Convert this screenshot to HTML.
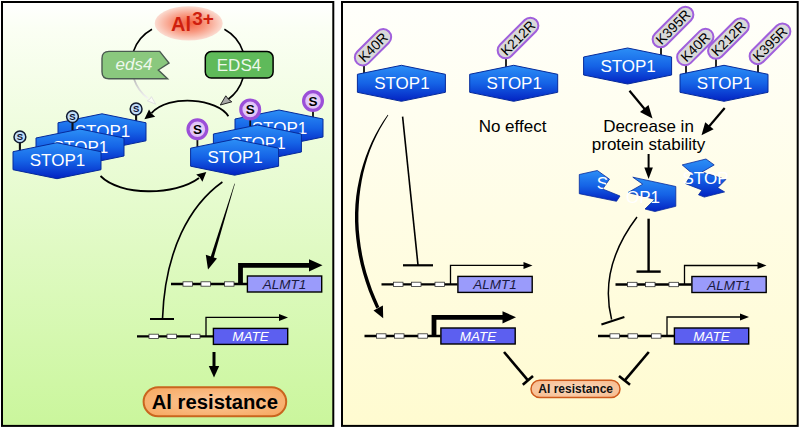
<!DOCTYPE html>
<html><head><meta charset="utf-8">
<style>
html,body{margin:0;padding:0;background:#fff;}
body{width:800px;height:430px;overflow:hidden;font-family:"Liberation Sans",sans-serif;}
svg{display:block;}
text{font-family:"Liberation Sans",sans-serif;}
</style></head><body>
<svg width="800" height="430" viewBox="0 0 800 430">
<defs>
<linearGradient id="gL" x1="0" y1="0" x2="0" y2="1"><stop offset="0" stop-color="#ffffff"/><stop offset="0.06" stop-color="#fbfff4"/><stop offset="1" stop-color="#caf69c"/></linearGradient>
<linearGradient id="gR" x1="0" y1="0" x2="0" y2="1"><stop offset="0" stop-color="#fffffb"/><stop offset="1" stop-color="#fffbd0"/></linearGradient>
<linearGradient id="gB" x1="0" y1="0" x2="0" y2="1"><stop offset="0" stop-color="#2c8ff6"/><stop offset="0.5" stop-color="#1563e6"/><stop offset="1" stop-color="#0322c2"/></linearGradient>
<radialGradient id="gAl" cx="0.5" cy="0.5" r="0.5"><stop offset="0" stop-color="#f5603f"/><stop offset="0.5" stop-color="#f89880"/><stop offset="1" stop-color="#fbdcd1"/></radialGradient>
<radialGradient id="gS" cx="0.5" cy="0.5" r="0.5"><stop offset="0" stop-color="#f3e6fc"/><stop offset="1" stop-color="#d9b5f5"/></radialGradient>
<linearGradient id="gFade" x1="0" y1="0" x2="0" y2="1"><stop offset="0" stop-color="#bdbdbd"/><stop offset="1" stop-color="#f4f4f4"/></linearGradient>
<g id="hex"><polygon points="0,9 44,0 88,9 88,27 44,36 0,27" fill="url(#gB)" stroke="#062a9a" stroke-width="1"/><text x="44.5" y="23.5" font-size="17" fill="#fff" text-anchor="middle">STOP1</text></g>
<g id="ss"><line x1="0" y1="6" x2="0" y2="14" stroke="#111" stroke-width="2.1"/><circle r="5.9" fill="#c0dcf8" stroke="#111a30" stroke-width="1.5"/><text x="0" y="3.4" font-size="9.5" font-weight="bold" fill="#0a1030" text-anchor="middle">S</text></g>
<g id="sp"><line x1="0" y1="10" x2="0" y2="18" stroke="#111" stroke-width="1.8"/><circle r="9.4" fill="url(#gS)" stroke="#9b4fd8" stroke-width="3.2"/><text x="0" y="4.8" font-size="13.5" font-weight="bold" fill="#000" text-anchor="middle">S</text></g>
<g id="dna"><line x1="0" y1="0" x2="76" y2="0" stroke="#000" stroke-width="2.4"/><rect x="12" y="-2.2" width="9.5" height="4.4" fill="#fff" stroke="#333" stroke-width="0.8"/><rect x="30" y="-2.2" width="9.5" height="4.4" fill="#fff" stroke="#333" stroke-width="0.8"/><rect x="53.5" y="-2.2" width="9.5" height="4.4" fill="#fff" stroke="#333" stroke-width="0.8"/></g>
<g id="almt"><use href="#dna"/><rect x="76.4" y="-8" width="74.3" height="16" fill="#9a9bfb" stroke="#000" stroke-width="1.4"/><text x="113.5" y="5" font-size="13.5" font-style="italic" fill="#1a1a40" text-anchor="middle">ALMT1</text></g>
<g id="mate"><use href="#dna"/><rect x="76.4" y="-8" width="74.3" height="16" fill="#5c5ff0" stroke="#000" stroke-width="1.4"/><text x="113.5" y="5" font-size="13.5" font-style="italic" fill="#fff" text-anchor="middle">MATE</text></g>
<g id="thin"><path d="M69 0 V-19 H144" fill="none" stroke="#000" stroke-width="1.3"/><polygon points="151,-19 142,-22.5 142,-15.5" fill="#000"/></g>
<g id="thick"><path d="M69.5 0 V-18.7 H140" fill="none" stroke="#000" stroke-width="4.8"/><polygon points="151.5,-18.7 138,-24.8 138,-12.6" fill="#000"/></g>
<radialGradient id="gP2" cx="0.5" cy="0.5" r="0.6"><stop offset="0" stop-color="#fbc99b"/><stop offset="1" stop-color="#f8ab66"/></radialGradient>
<radialGradient id="gP" cx="0.5" cy="0.5" r="0.6"><stop offset="0" stop-color="#fbdcc2"/><stop offset="1" stop-color="#f7bd90"/></radialGradient>
</defs>
<rect x="2" y="2" width="331.3" height="423.9" fill="url(#gL)" stroke="#000" stroke-width="2"/>
<rect x="342" y="2" width="455.7" height="423.9" fill="url(#gR)" stroke="#000" stroke-width="2"/>

<!-- LEFT PANEL -->
<ellipse cx="188.7" cy="23.4" rx="34" ry="17.2" fill="url(#gAl)"/>
<text x="171" y="31.4" font-size="20" font-weight="bold" fill="#cf1f0e">Al</text>
<text x="192.3" y="24.6" font-size="19" font-weight="bold" fill="#cf1f0e">3+</text>
<path d="M152 29.3 A40.5 40.5 0 0 0 133.4 51.4" fill="none" stroke="#000" stroke-width="1.6"/>
<path d="M224.4 29.3 A40.5 40.5 0 0 1 243 51.4" fill="none" stroke="#000" stroke-width="1.6"/>
<path d="M243 78 A40.5 40.5 0 0 1 228 99.5" fill="none" stroke="#000" stroke-width="1.6"/>
<polygon points="220.3,105 225.8,95.8 228.4,99.2 231.8,101.8" fill="#a8a8a8" stroke="#222" stroke-width="1"/>
<path d="M134 79 A40.5 40.5 0 0 0 148 98.5" fill="none" stroke="url(#gFade)" stroke-width="1.8"/>
<polygon points="155.7,104.2 147.3,100.8 150,99 151.4,96.6" fill="#fbfdf6" stroke="#e2e2e2" stroke-width="1"/>
<path d="M109 51.4 H159.7 L169 63 L158.3 70 L167.6 78.8 H109 Q102 78.8 102 71.8 V58.4 Q102 51.4 109 51.4Z" fill="#8ac87e" stroke="#4a5a50" stroke-width="1.4"/>
<text x="134" y="70.4" font-size="17" font-style="italic" fill="#eef8ec" text-anchor="middle">eds4</text>
<rect x="205.3" y="51.6" width="67.8" height="26.4" rx="6" ry="6" fill="#5fba5a" stroke="#000" stroke-width="1.5"/>
<text x="239" y="70.6" font-size="17" fill="#eef8ec" text-anchor="middle">EDS4</text>

<!-- left stack -->
<use href="#ss" x="136.1" y="109"/>
<use href="#hex" x="58" y="113.8"/>
<use href="#ss" x="72.5" y="116.6"/>
<use href="#hex" x="36" y="129"/>
<use href="#ss" x="19.9" y="136.9"/>
<use href="#hex" x="13" y="142.7"/>
<!-- right stack -->
<use href="#sp" x="313" y="101"/>
<use href="#hex" x="235" y="110"/>
<use href="#sp" x="250.2" y="109.4"/>
<use href="#hex" x="213.4" y="125"/>
<use href="#sp" x="197.4" y="129.2"/>
<use href="#hex" x="190.6" y="139.2"/>
<!-- cycle arrows -->
<path d="M228.4 116.2 C217.7 98.6 168.9 93.7 151.5 113.2" fill="none" stroke="#000" stroke-width="1.8"/>
<polygon points="144.4,119.2 149,109.6 151.6,113.4 155.2,116.8" fill="#000"/>
<path d="M100.5 176 C120 196 175 196 199 178" fill="none" stroke="#000" stroke-width="1.8"/>
<polygon points="206.3,172 196.2,174.6 199.8,177.6 202.4,181.8" fill="#000"/>
<!-- outputs -->
<path d="M222.4 182 C190 205 165 250 162.5 318.7" fill="none" stroke="#000" stroke-width="1.6"/>
<line x1="150" y1="319" x2="174" y2="319" stroke="#000" stroke-width="2"/>
<polygon points="234.5,183.6 234.9,183.7 213.6,258 210.6,257" fill="#000"/>
<polygon points="208,269.6 205.8,254.8 217,258.4" fill="#000"/>
<use href="#almt" x="171" y="284"/>
<use href="#thick" x="171" y="284"/>
<use href="#mate" x="137" y="336.4"/>
<use href="#thin" x="137" y="336.4"/>
<line x1="214" y1="352" x2="214" y2="368" stroke="#000" stroke-width="3"/>
<polygon points="214,377.5 208.8,366 219.2,366" fill="#000"/>
<rect x="143.6" y="387.2" width="142.6" height="29" rx="14.5" ry="14.5" fill="url(#gP2)" stroke="#c9651e" stroke-width="2"/>
<text x="214.8" y="408.6" font-size="20.3" font-weight="bold" fill="#000" text-anchor="middle">Al resistance</text>

<!-- RIGHT PANEL -->
<!-- STOP1 #1 K40R -->
<line x1="364" y1="63" x2="364" y2="74" stroke="#111" stroke-width="1.8"/>
<g transform="translate(373,47.3) rotate(-45)"><rect x="-22.4" y="-8" width="44.8" height="16" rx="8" ry="8" fill="#d9d9d9" stroke="#a05fdc" stroke-width="2"/><text x="0" y="4.9" font-size="13.8" fill="#000" text-anchor="middle">K40R</text></g>
<use href="#hex" x="357.4" y="65.3"/>
<!-- STOP1 #2 K212R -->
<line x1="506" y1="56" x2="506" y2="68" stroke="#111" stroke-width="1.8"/>
<g transform="translate(518,38) rotate(-45)"><rect x="-25.5" y="-8" width="51" height="16" rx="8" ry="8" fill="#d9d9d9" stroke="#a05fdc" stroke-width="2"/><text x="0" y="4.9" font-size="13.8" fill="#000" text-anchor="middle">K212R</text></g>
<use href="#hex" x="469.7" y="65.3"/>
<text x="512.5" y="131.7" font-size="17" fill="#000" text-anchor="middle">No effect</text>
<!-- STOP1 #3 K395R -->
<line x1="661" y1="45" x2="661" y2="56" stroke="#111" stroke-width="1.8"/>
<g transform="translate(673,27) rotate(-45)"><rect x="-25.5" y="-8" width="51" height="16" rx="8" ry="8" fill="#d9d9d9" stroke="#a05fdc" stroke-width="2"/><text x="0" y="4.9" font-size="13.8" fill="#000" text-anchor="middle">K395R</text></g>
<use href="#hex" x="583.6" y="48"/>
<!-- STOP1 #4 triple -->
<line x1="686" y1="63" x2="686" y2="74" stroke="#111" stroke-width="1.8"/>
<line x1="716" y1="56" x2="716" y2="68" stroke="#111" stroke-width="1.8"/>
<line x1="758" y1="61" x2="758" y2="73" stroke="#111" stroke-width="1.8"/>
<g transform="translate(695.3,47) rotate(-45)"><rect x="-22.4" y="-8" width="44.8" height="16" rx="8" ry="8" fill="#d9d9d9" stroke="#a05fdc" stroke-width="2"/><text x="0" y="4.9" font-size="13.8" fill="#000" text-anchor="middle">K40R</text></g>
<g transform="translate(728.4,38.5) rotate(-45)"><rect x="-25.5" y="-8" width="51" height="16" rx="8" ry="8" fill="#d9d9d9" stroke="#a05fdc" stroke-width="2"/><text x="0" y="4.9" font-size="13.8" fill="#000" text-anchor="middle">K212R</text></g>
<g transform="translate(770,43.8) rotate(-45)"><rect x="-25.5" y="-8" width="51" height="16" rx="8" ry="8" fill="#d9d9d9" stroke="#a05fdc" stroke-width="2"/><text x="0" y="4.9" font-size="13.8" fill="#000" text-anchor="middle">K395R</text></g>
<use href="#hex" x="680" y="65.3"/>
<!-- arrows to text -->
<line x1="629.5" y1="90.7" x2="645" y2="109.5" stroke="#000" stroke-width="2.2"/>
<polygon points="652.5,118.5 640,112 648.5,105" fill="#000"/>
<line x1="724.7" y1="108" x2="709" y2="126.5" stroke="#000" stroke-width="2.2"/>
<polygon points="701.5,135.3 705.2,122.2 713.6,129.3" fill="#000"/>
<text x="648.5" y="131.7" font-size="17" fill="#000" text-anchor="middle">Decrease in</text>
<text x="648.5" y="149.6" font-size="17" fill="#000" text-anchor="middle">protein stability</text>
<line x1="648.6" y1="154" x2="648.6" y2="170" stroke="#000" stroke-width="2"/>
<polygon points="648.6,179 644.3,167.5 652.9,167.5" fill="#000"/>
<!-- fragments -->
<clipPath id="c1"><polygon points="579.3,174.5 597.3,170.5 609.5,179.2 602.6,189 620,196 616.5,201.3 579.3,193.7"/></clipPath>
<polygon points="579.3,174.5 597.3,170.5 609.5,179.2 602.6,189 620,196 616.5,201.3 579.3,193.7" fill="url(#gB)" stroke="#062a9a" stroke-width="0.8"/>
<text x="596.7" y="189.2" font-size="17" fill="#fff" clip-path="url(#c1)">S</text>
<polygon points="632.8,177.2 675.8,186.5 675.8,206.3 654.9,211.5 645,209 654.9,199.3 628,192.5 642.7,184.2" fill="url(#gB)" stroke="#062a9a" stroke-width="0.8"/>
<text x="660" y="203" font-size="17" fill="#fff" text-anchor="end">OP1</text>
<polygon points="682.2,164.9 706,159 714.2,164.9 702,172 725.8,179.6 717.7,187.8 724.6,191.9 704.3,197.1 698.5,194.8 702,190 685.7,183.7 692,173.3" fill="url(#gB)" stroke="#062a9a" stroke-width="0.8"/>
<text x="682.5" y="184" font-size="17" fill="#fff">STOP</text>
<!-- left group arrows -->
<polygon points="387.7,114.8 383.2,121.3 379.1,128.1 375.2,135.0 371.7,142.1 368.5,149.4 365.6,156.9 363.1,164.5 360.8,172.3 359.0,180.2 357.4,188.2 356.2,196.3 355.4,204.6 355.0,213.0 355.0,221.4 355.4,229.9 356.2,238.5 357.3,247.1 358.8,255.8 360.7,264.5 363.0,273.3 365.7,282.1 368.8,290.9 372.3,299.6 376.3,308.4 379.3,307.0 375.5,298.3 372.0,289.7 369.0,281.0 366.3,272.4 364.0,263.8 362.2,255.2 360.7,246.6 359.6,238.1 358.8,229.7 358.4,221.3 358.4,213.0 358.8,204.8 359.4,196.7 360.4,188.7 361.7,180.7 363.3,172.9 365.3,165.2 367.6,157.6 370.2,150.1 373.2,142.8 376.5,135.7 380.1,128.7 384.1,121.9 388.3,115.2" fill="#000"/>
<polygon points="383.2,318.3 373.5,310.4 382.9,305.4" fill="#000"/>
<line x1="402.6" y1="116.6" x2="418" y2="265" stroke="#000" stroke-width="1.6"/>
<line x1="403" y1="265.3" x2="433" y2="265.3" stroke="#000" stroke-width="2.2"/>
<use href="#almt" x="381.5" y="284.4"/>
<use href="#thin" x="381.5" y="284.4"/>
<use href="#mate" x="364.5" y="336"/>
<use href="#thick" x="364.5" y="336"/>
<!-- right group -->
<line x1="648.6" y1="218.7" x2="648.6" y2="271.6" stroke="#000" stroke-width="2.4"/>
<line x1="636.5" y1="271.6" x2="660.7" y2="271.6" stroke="#000" stroke-width="2.4"/>
<path d="M637 217 C612 250 603 285 611.6 319.5" fill="none" stroke="#000" stroke-width="1.5"/>
<line x1="601.4" y1="324.5" x2="624.4" y2="317" stroke="#000" stroke-width="2"/>
<use href="#almt" x="615.5" y="284.5"/>
<use href="#thin" x="615.5" y="284.5"/>
<use href="#mate" x="598" y="336"/>
<use href="#thin" x="598" y="336"/>
<!-- inhibit to Al resistance -->
<line x1="504" y1="352" x2="528" y2="380.3" stroke="#000" stroke-width="2.6"/>
<line x1="522.8" y1="384.8" x2="533" y2="376" stroke="#000" stroke-width="2.6"/>
<line x1="648.8" y1="352" x2="624.8" y2="380.3" stroke="#000" stroke-width="2.6"/>
<line x1="619" y1="376" x2="630" y2="384.8" stroke="#000" stroke-width="2.6"/>
<rect x="531" y="380.2" width="89" height="17.4" rx="8.7" ry="8.7" fill="url(#gP)" stroke="#cf5a1c" stroke-width="1.5"/>
<text x="575.7" y="393.3" font-size="12" font-weight="bold" fill="#111" text-anchor="middle">Al resistance</text>
</svg>
</body></html>
